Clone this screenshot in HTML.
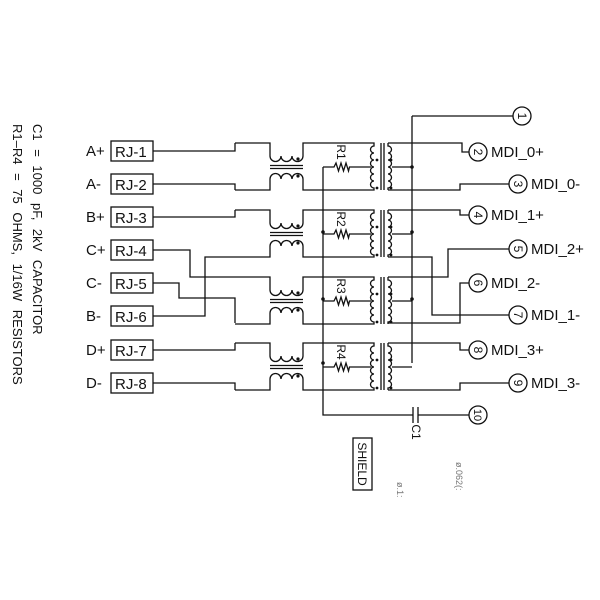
<!DOCTYPE html>
<html><head><meta charset="utf-8"><style>
html,body{margin:0;padding:0;background:#fff;width:600px;height:600px;overflow:hidden}
svg{display:block}
text{font-family:"Liberation Sans",sans-serif;fill:#111}
</style></head><body>
<svg width="600" height="600" viewBox="0 0 600 600" xmlns="http://www.w3.org/2000/svg">
<defs>
<g id="blk" fill="none" stroke="#111" stroke-width="1.3">
<path d="M235,143 H270 V156 a5.5,5.5 0 0 0 11,0 a5.5,5.5 0 0 0 11,0 a5.5,5.5 0 0 0 11,0 V143 H374 V146 a3.5,3.5 0 0 0 0,7 a3.5,3.5 0 0 0 0,7 a3.5,3.5 0 0 0 0,7 a3.5,3.5 0 0 0 0,7 a3.5,3.5 0 0 0 0,7 a3.5,3.5 0 0 0 0,7 V190 H303 V179 a5.5,5.5 0 0 0 -11,0 a5.5,5.5 0 0 0 -11,0 a5.5,5.5 0 0 0 -11,0 V190 H235"/>
<path d="M270,165.5 H303 M270,168.5 H303 M381,143 V190 M384,143 V190"/>
<path d="M388,143 V146 a3.5,3.5 0 0 1 0,7 a3.5,3.5 0 0 1 0,7 a3.5,3.5 0 0 1 0,7 a3.5,3.5 0 0 1 0,7 a3.5,3.5 0 0 1 0,7 a3.5,3.5 0 0 1 0,7 V190"/>
<path d="M323,167 H334 l2,-4 l2.5,8 l2.5,-8 l2.5,8 l2.5,-8 l2.5,8 l1,-4 H371 M392,167 H412"/>
<g fill="#111" stroke="none">
<circle cx="298" cy="159" r="1.6"/><circle cx="298" cy="176" r="1.6"/>
<circle cx="377" cy="160" r="1.4"/><circle cx="377" cy="188" r="1.4"/>
<circle cx="391" cy="160" r="1.4"/><circle cx="391" cy="188" r="1.4"/>
</g>
</g>
</defs>
<use href="#blk"/>
<use href="#blk" transform="translate(0,67)"/>
<use href="#blk" transform="translate(0,134)"/>
<use href="#blk" transform="translate(0,200)"/>
<g fill="none" stroke="#111" stroke-width="1.3">
<rect x="111" y="141" width="42" height="20"/>
<rect x="111" y="174" width="42" height="20"/>
<rect x="111" y="207" width="42" height="20"/>
<rect x="111" y="240" width="42" height="20"/>
<rect x="111" y="273" width="42" height="20"/>
<rect x="111" y="306" width="42" height="20"/>
<rect x="111" y="340" width="42" height="20"/>
<rect x="111" y="373" width="42" height="20"/>
<path d="M153,151 H235 V143 M153,184 H235 V190 M153,217 H235 V210 M153,250 H190 V277 H235 M153,283 H179 V298 H235 V323 M153,316 H205 V257 H235 M153,350 H235 V343 M153,383 H235 V390"/>
<path d="M388,143 H462 V152 H469 M388,190 H460 V184 H509 M388,210 H460 V215 H469 M388,257 H432 V315 H509 M388,277 H448 V249 H509 M388,323 H460 V283 H469 M388,343 H460 V350 H469 M388,390 H460 V383 H509"/>
<path d="M412,116 H513 M412,116 V363 M323,167 V415 H413 M413,407 V423 M418,407 V423 M418,415 H469"/>
<circle cx="522" cy="116" r="9"/><circle cx="478" cy="152" r="9"/><circle cx="518" cy="184" r="9"/>
<circle cx="478" cy="215" r="9"/><circle cx="518" cy="249" r="9"/><circle cx="478" cy="283" r="9"/>
<circle cx="518" cy="315" r="9"/><circle cx="478" cy="350" r="9"/><circle cx="518" cy="383" r="9"/>
<circle cx="478" cy="415" r="9"/>
<rect x="353" y="438" width="19" height="52"/>
</g>
<g fill="#111"><circle cx="323" cy="232" r="1.8"/><circle cx="323" cy="299" r="1.8"/><circle cx="323" cy="363" r="1.8"/><circle cx="412" cy="167" r="1.8"/><circle cx="412" cy="232" r="1.8"/><circle cx="412" cy="299" r="1.8"/></g>
<g font-size="15">
<text x="86" y="156">A+</text><text x="86" y="189">A-</text><text x="86" y="222">B+</text><text x="86" y="255">C+</text>
<text x="86" y="288">C-</text><text x="86" y="321">B-</text><text x="86" y="355">D+</text><text x="86" y="388">D-</text>
<text x="115" y="157">RJ-1</text><text x="115" y="190">RJ-2</text><text x="115" y="223">RJ-3</text><text x="115" y="256">RJ-4</text>
<text x="115" y="289">RJ-5</text><text x="115" y="322">RJ-6</text><text x="115" y="356">RJ-7</text><text x="115" y="389">RJ-8</text>
<text x="491" y="157">MDI_0+</text><text x="531" y="189">MDI_0-</text><text x="491" y="220">MDI_1+</text><text x="531" y="254">MDI_2+</text>
<text x="491" y="288">MDI_2-</text><text x="531" y="320">MDI_1-</text><text x="491" y="355">MDI_3+</text><text x="531" y="388">MDI_3-</text>
</g>
<g font-size="12" text-anchor="middle">
<text transform="translate(518,116) rotate(90)">1</text><text transform="translate(474,152) rotate(90)">2</text>
<text transform="translate(514,184) rotate(90)">3</text><text transform="translate(474,215) rotate(90)">4</text>
<text transform="translate(514,249) rotate(90)">5</text><text transform="translate(474,283) rotate(90)">6</text>
<text transform="translate(514,315) rotate(90)">7</text><text transform="translate(474,350) rotate(90)">8</text>
<text transform="translate(514,383) rotate(90)">9</text><text transform="translate(474,415) rotate(90)" font-size="11">10</text>
<text transform="translate(337,152) rotate(90)">R1</text><text transform="translate(337,219) rotate(90)">R2</text>
<text transform="translate(337,286) rotate(90)">R3</text><text transform="translate(337,352) rotate(90)">R4</text>
<text transform="translate(412,432) rotate(90)">C1</text>
<text transform="translate(358,464) rotate(90)">SHIELD</text>
</g>
<g font-size="13" word-spacing="5">
<text transform="translate(33,124) rotate(90)">C1 = 1000 pF, 2kV CAPACITOR</text>
<text transform="translate(13,124) rotate(90)">R1–R4 = 75 OHMS, 1/16W RESISTORS</text>
</g>
<g font-size="9">
<text transform="translate(456,462) rotate(90)" style="fill:#777">ø.062(:</text>
<text transform="translate(397,482) rotate(90)" style="fill:#777">ø.1:</text>
</g>
</svg>
</body></html>
